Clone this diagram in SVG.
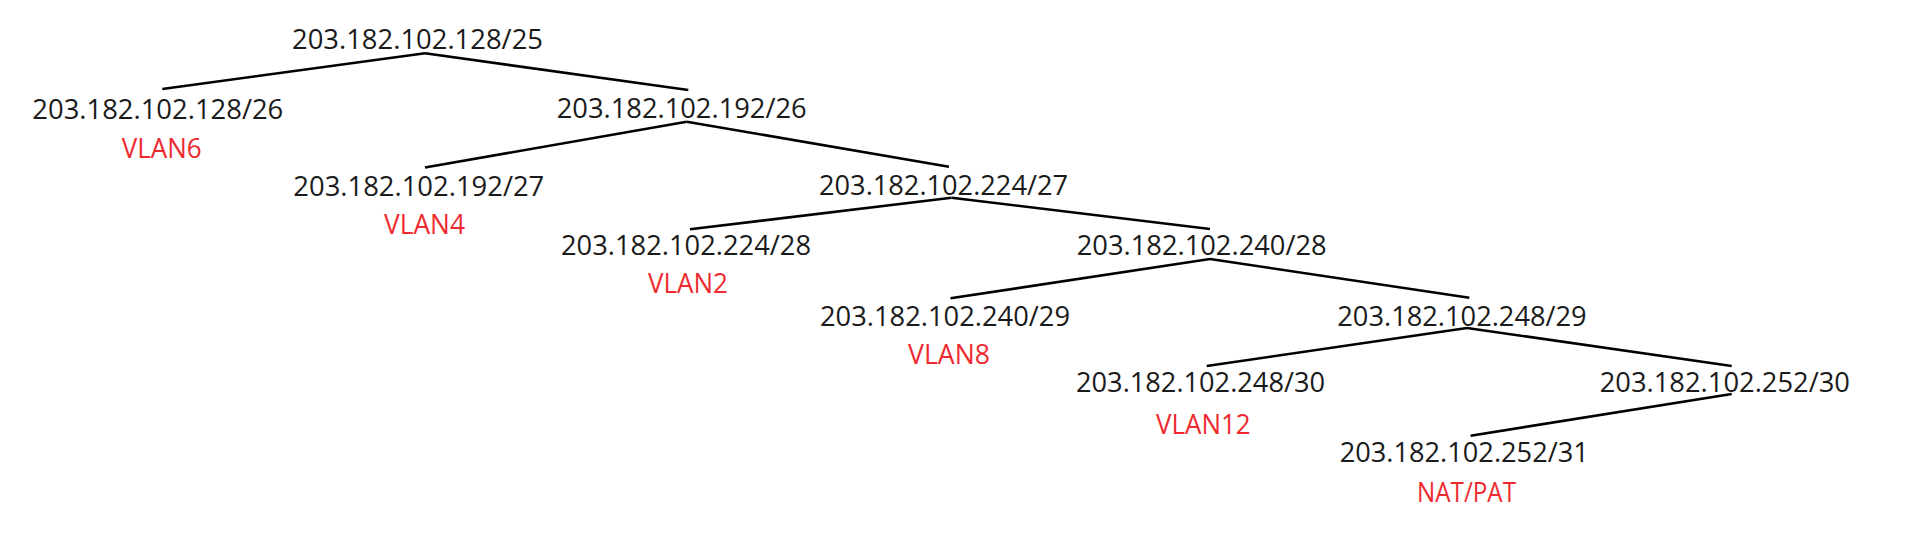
<svg xmlns="http://www.w3.org/2000/svg" width="1912" height="537" viewBox="0 0 1912 537">
<style>
.n{font-family:"Open Sans","Noto Sans","Liberation Sans",sans-serif;font-size:28px;fill:#1a1a1a}
.v{font-family:"Open Sans","Noto Sans","Liberation Sans",sans-serif;font-size:27px;fill:#ee2a30}
.c line{stroke:#000;stroke-width:2.6;stroke-linecap:butt}
</style>
<rect width="1912" height="537" fill="#fff"/>
<g id="connectors" class="c">
<line x1="425" y1="53.3" x2="162.3" y2="89"/>
<line x1="425" y1="53.3" x2="688.3" y2="90"/>
<line x1="686.7" y1="121.7" x2="425" y2="167.5"/>
<line x1="686.7" y1="121.7" x2="949" y2="166.7"/>
<line x1="951.5" y1="197.7" x2="690" y2="229.3"/>
<line x1="951.5" y1="197.7" x2="1210" y2="229"/>
<line x1="1210" y1="259" x2="950.5" y2="298.3"/>
<line x1="1210" y1="259" x2="1469.3" y2="297.7"/>
<line x1="1467" y1="328" x2="1206.7" y2="366"/>
<line x1="1467" y1="328" x2="1731.7" y2="366"/>
<line x1="1731.7" y1="394" x2="1470.6" y2="435.7"/>
</g>
<g id="n25"><text class="n" x="292" y="49.3" textLength="251" lengthAdjust="spacingAndGlyphs">203.182.102.128/25</text></g>
<g id="n128-26"><text class="n" x="32.3" y="119" textLength="251" lengthAdjust="spacingAndGlyphs">203.182.102.128/26</text><text class="v" x="121.7" y="157.7" textLength="80" lengthAdjust="spacingAndGlyphs">VLAN6</text></g>
<g id="n192-26"><text class="n" x="556.7" y="118.3" textLength="250" lengthAdjust="spacingAndGlyphs">203.182.102.192/26</text></g>
<g id="n192-27"><text class="n" x="293.3" y="195.7" textLength="251" lengthAdjust="spacingAndGlyphs">203.182.102.192/27</text><text class="v" x="384" y="234" textLength="81" lengthAdjust="spacingAndGlyphs">VLAN4</text></g>
<g id="n224-27"><text class="n" x="819" y="195" textLength="249" lengthAdjust="spacingAndGlyphs">203.182.102.224/27</text></g>
<g id="n224-28"><text class="n" x="561" y="255" textLength="250" lengthAdjust="spacingAndGlyphs">203.182.102.224/28</text><text class="v" x="648" y="293.3" textLength="80" lengthAdjust="spacingAndGlyphs">VLAN2</text></g>
<g id="n240-28"><text class="n" x="1076.7" y="255" textLength="250" lengthAdjust="spacingAndGlyphs">203.182.102.240/28</text></g>
<g id="n240-29"><text class="n" x="820" y="326" textLength="250" lengthAdjust="spacingAndGlyphs">203.182.102.240/29</text><text class="v" x="908" y="364" textLength="82" lengthAdjust="spacingAndGlyphs">VLAN8</text></g>
<g id="n248-29"><text class="n" x="1337.3" y="326" textLength="249.4" lengthAdjust="spacingAndGlyphs">203.182.102.248/29</text></g>
<g id="n248-30"><text class="n" x="1076" y="391.7" textLength="249" lengthAdjust="spacingAndGlyphs">203.182.102.248/30</text><text class="v" x="1156" y="434" textLength="94.7" lengthAdjust="spacingAndGlyphs">VLAN12</text></g>
<g id="n252-30"><text class="n" x="1599.7" y="391.7" textLength="250.3" lengthAdjust="spacingAndGlyphs">203.182.102.252/30</text></g>
<g id="n252-31"><text class="n" x="1339.7" y="462.3" textLength="249.1" lengthAdjust="spacingAndGlyphs">203.182.102.252/31</text><text class="v" x="1417" y="502.3" textLength="99" lengthAdjust="spacingAndGlyphs">NAT/PAT</text></g>
</svg>
